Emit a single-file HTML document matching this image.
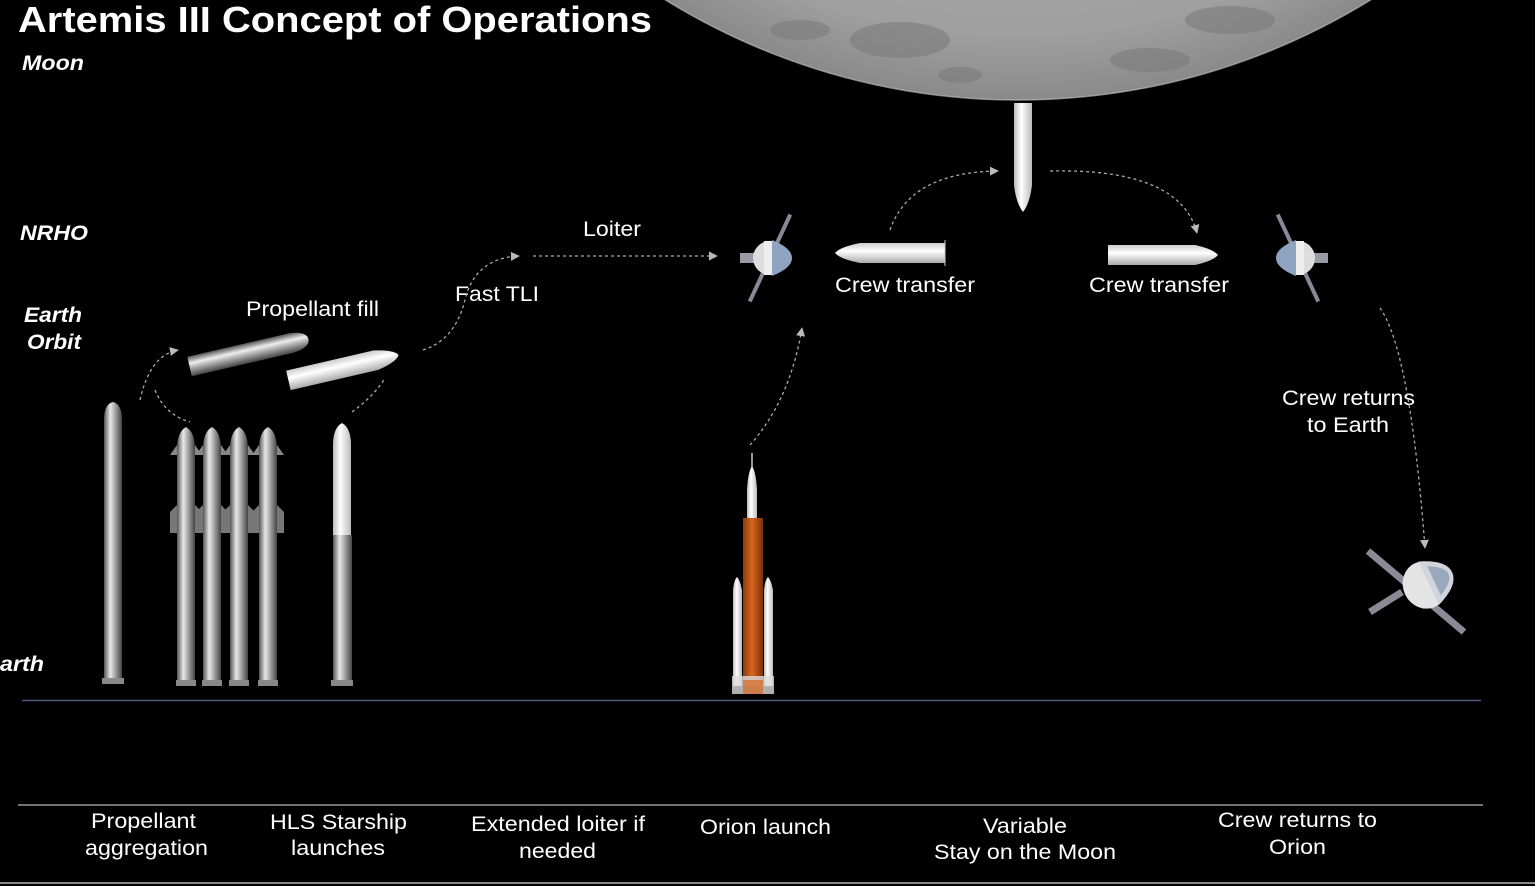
<!DOCTYPE html>
<html><head><meta charset="utf-8"><style>
html,body{margin:0;padding:0;background:#000;}
svg{display:block;}
text{font-family:"Liberation Sans",sans-serif;fill:#fff;}
</style></head><body>
<svg width="1535" height="886" viewBox="0 0 1535 886" xmlns="http://www.w3.org/2000/svg">
<defs>
<radialGradient id="moon" cx="0.5" cy="0.5" r="0.5">
<stop offset="0" stop-color="#b8b8b8"/><stop offset="0.9" stop-color="#a0a0a0"/><stop offset="1" stop-color="#8a8a8a"/>
</radialGradient>
<linearGradient id="steel" x1="0" x2="1" y1="0" y2="0">
<stop offset="0" stop-color="#555"/><stop offset="0.35" stop-color="#e8e8e8"/><stop offset="0.6" stop-color="#aaa"/><stop offset="1" stop-color="#444"/>
</linearGradient>
<linearGradient id="steelH" x1="0" x2="0" y1="0" y2="1">
<stop offset="0" stop-color="#555"/><stop offset="0.35" stop-color="#eee"/><stop offset="0.6" stop-color="#aaa"/><stop offset="1" stop-color="#444"/>
</linearGradient>
<linearGradient id="white" x1="0" x2="1">
<stop offset="0" stop-color="#bbb"/><stop offset="0.4" stop-color="#fff"/><stop offset="1" stop-color="#bbb"/>
</linearGradient>
<linearGradient id="whiteH" x1="0" x2="0" y1="0" y2="1">
<stop offset="0" stop-color="#ccc"/><stop offset="0.4" stop-color="#fff"/><stop offset="1" stop-color="#aaa"/>
</linearGradient>
<linearGradient id="orange" x1="0" x2="1">
<stop offset="0" stop-color="#8a3a0c"/><stop offset="0.45" stop-color="#d9661e"/><stop offset="1" stop-color="#7a300a"/>
</linearGradient>
<marker id="ah" viewBox="0 0 10 10" refX="9" refY="5" markerWidth="9" markerHeight="9" markerUnits="userSpaceOnUse" orient="auto"><path d="M0,0 L10,5 L0,10 z" fill="#bbb"/></marker>
<g id="orion">
<rect x="-2" y="-48" width="4" height="96" fill="#889" transform="rotate(25)"/>
<rect x="-30" y="-5" width="24" height="10" fill="#9a9aa6"/>
<circle cx="0" cy="0" r="17" fill="#ddd"/>
<path d="M2,-18 Q22,-10 22,0 Q22,10 2,18 z" fill="#8ea4c0"/>
<rect x="-6" y="-17" width="8" height="34" fill="#eee"/>
</g>
</defs>

<circle cx="1018" cy="-571" r="671" fill="url(#moon)"/>
<circle cx="1018" cy="-571" r="671" fill="none" stroke="#ccc" stroke-width="1.5" opacity="0.6"/>
<g fill="#7c7c7c" opacity="0.6">
<ellipse cx="900" cy="40" rx="50" ry="18"/><ellipse cx="1150" cy="60" rx="40" ry="12"/><ellipse cx="960" cy="75" rx="22" ry="8"/><ellipse cx="1230" cy="20" rx="45" ry="14"/><ellipse cx="800" cy="30" rx="30" ry="10"/>
</g>

<text x="18" y="32" font-size="36" font-weight="bold" textLength="634" lengthAdjust="spacingAndGlyphs">Artemis III Concept of Operations</text>
<g font-style="italic" font-weight="bold" font-size="21">
<text x="22" y="70" textLength="62" lengthAdjust="spacingAndGlyphs">Moon</text>
<text x="20" y="240" textLength="68" lengthAdjust="spacingAndGlyphs">NRHO</text>
<text x="24" y="322" textLength="58" lengthAdjust="spacingAndGlyphs">Earth</text>
<text x="27" y="349" textLength="54" lengthAdjust="spacingAndGlyphs">Orbit</text>
<text x="0" y="671" textLength="44" lengthAdjust="spacingAndGlyphs">arth</text>
</g>

<g font-size="21">
<text x="246" y="316" textLength="133" lengthAdjust="spacingAndGlyphs">Propellant fill</text>
<text x="455" y="301" textLength="84" lengthAdjust="spacingAndGlyphs">Fast TLI</text>
<text x="583" y="236" textLength="58" lengthAdjust="spacingAndGlyphs">Loiter</text>
<text x="835" y="292" textLength="140" lengthAdjust="spacingAndGlyphs">Crew transfer</text>
<text x="1089" y="292" textLength="140" lengthAdjust="spacingAndGlyphs">Crew transfer</text>
<text x="1282" y="405" textLength="133" lengthAdjust="spacingAndGlyphs">Crew returns</text>
<text x="1307" y="432" textLength="82" lengthAdjust="spacingAndGlyphs">to Earth</text>
<text x="91" y="828" textLength="105" lengthAdjust="spacingAndGlyphs">Propellant</text>
<text x="85" y="855" textLength="123" lengthAdjust="spacingAndGlyphs">aggregation</text>
<text x="270" y="829" textLength="137" lengthAdjust="spacingAndGlyphs">HLS Starship</text>
<text x="291" y="855" textLength="94" lengthAdjust="spacingAndGlyphs">launches</text>
<text x="471" y="831" textLength="174" lengthAdjust="spacingAndGlyphs">Extended loiter if</text>
<text x="519" y="858" textLength="77" lengthAdjust="spacingAndGlyphs">needed</text>
<text x="700" y="834" textLength="131" lengthAdjust="spacingAndGlyphs">Orion launch</text>
<text x="983" y="833" textLength="84" lengthAdjust="spacingAndGlyphs">Variable</text>
<text x="934" y="859" textLength="182" lengthAdjust="spacingAndGlyphs">Stay on the Moon</text>
<text x="1218" y="827" textLength="159" lengthAdjust="spacingAndGlyphs">Crew returns to</text>
<text x="1269" y="854" textLength="57" lengthAdjust="spacingAndGlyphs">Orion</text>
</g>

<line x1="22" y1="700.5" x2="1481" y2="700.5" stroke="#4a5a78" stroke-width="1.5"/>
<line x1="18" y1="805" x2="1483" y2="805" stroke="#999" stroke-width="1.5"/>
<line x1="0" y1="883" x2="1535" y2="883" stroke="#888" stroke-width="2"/>

<g fill="none" stroke="#aaa" stroke-width="1.3" stroke-dasharray="3,3">
<path d="M140,400 Q150,355 178,350" marker-end="url(#ah)"/>
<path d="M155,390 Q165,415 190,422"/>
<path d="M352,412 Q375,395 385,378"/>
<path d="M423,350 Q455,340 465,300 Q475,258 519,256" marker-end="url(#ah)"/>
<path d="M533,256 L717,256" marker-end="url(#ah)"/>
<path d="M750,445 Q790,400 802,328" marker-end="url(#ah)"/>
<path d="M890,230 Q910,172 998,171" marker-end="url(#ah)"/>
<path d="M1050,171 Q1180,168 1197,233" marker-end="url(#ah)"/>
<path d="M1380,308 Q1410,350 1425,548" marker-end="url(#ah)"/>
</g>

<g>
<path d="M104,682 L104,420 Q104,404 113,402 Q122,404 122,420 L122,682 z" fill="url(#steel)"/>
<rect x="102" y="678" width="22" height="6" fill="#888"/>
</g>
<g id="ss">
<path d="M177,685 L177,450 Q177,432 186,427 Q195,432 195,450 L195,685 z" fill="url(#steel)"/>
<path d="M177,445 L170,455 L177,455z M195,445 L202,455 L195,455z" fill="#888"/>
<path d="M177,505 L170,512 L170,533 L177,533z M195,505 L202,512 L202,533 L195,533z" fill="#777"/>
<rect x="176" y="680" width="20" height="6" fill="#888"/>
</g>
<use href="#ss" x="26"/><use href="#ss" x="53"/><use href="#ss" x="82"/>
<g>
<path d="M333,685 L333,535 L352,535 L352,685 z" fill="url(#steel)"/>
<path d="M333,535 L333,445 Q333,428 342,423 Q351,428 351,445 L351,535 z" fill="url(#white)"/>
<rect x="331" y="680" width="22" height="6" fill="#888"/>
</g>

<g transform="translate(248,353) rotate(-13)">
<path d="M-60,-10 L45,-10 Q62,-8 62,0 Q62,8 45,10 L-60,10 z" fill="url(#steelH)"/>
</g>
<g transform="translate(342,368) rotate(-13)">
<path d="M-55,-10 L35,-10 Q55,-6 58,0 Q55,6 35,10 L-55,10 z" fill="url(#whiteH)"/>
</g>

<path d="M945,243 L860,243 Q840,247 835,253 Q840,259 860,263 L945,263 z" fill="url(#whiteH)"/>
<line x1="945" y1="240" x2="945" y2="266" stroke="#ccc"/>
<path d="M1108,245 L1195,245 Q1213,249 1218,255 Q1213,261 1195,265 L1108,265 z" fill="url(#whiteH)"/>
<path d="M1014,103 L1032,103 L1032,185 Q1030,203 1023,212 Q1016,203 1014,185 z" fill="url(#white)"/>

<g transform="translate(770,258)"><use href="#orion"/></g>
<g transform="translate(1298,258) scale(-1,1)"><use href="#orion"/></g>

<!-- returning Orion -->
<g>
<line x1="1368" y1="551" x2="1464" y2="632" stroke="#8a8a96" stroke-width="7"/>
<line x1="1370" y1="612" x2="1402" y2="592" stroke="#8a8a96" stroke-width="7"/>
<g transform="translate(1425,585) rotate(-25)">
<ellipse cx="0" cy="0" rx="22" ry="24" fill="#e4e4e4"/>
<path d="M4,-24 Q30,-14 30,0 Q30,14 4,24 z" fill="#d0d4dc"/>
<path d="M10,-16 Q26,-8 26,0 Q26,8 10,16 z" fill="#9aa8bc"/>
</g>
</g>

<g>
<line x1="752" y1="453" x2="752" y2="470" stroke="#ccc" stroke-width="1.5"/>
<path d="M747,520 L747,490 Q748,472 752,466 Q756,472 757,490 L757,520 z" fill="url(#white)"/>
<rect x="743" y="518" width="20" height="168" fill="url(#orange)"/>
<path d="M733,686 L733,590 Q734,580 737,577 Q740,580 742,590 L742,686 z" fill="url(#white)"/>
<path d="M764,686 L764,590 Q765,580 768,577 Q771,580 773,590 L773,686 z" fill="url(#white)"/>
<rect x="732" y="676" width="42" height="18" fill="#ddd" opacity="0.8"/>
<rect x="743" y="680" width="20" height="14" fill="#d9661e" opacity="0.7"/>
</g>
</svg>
</body></html>
